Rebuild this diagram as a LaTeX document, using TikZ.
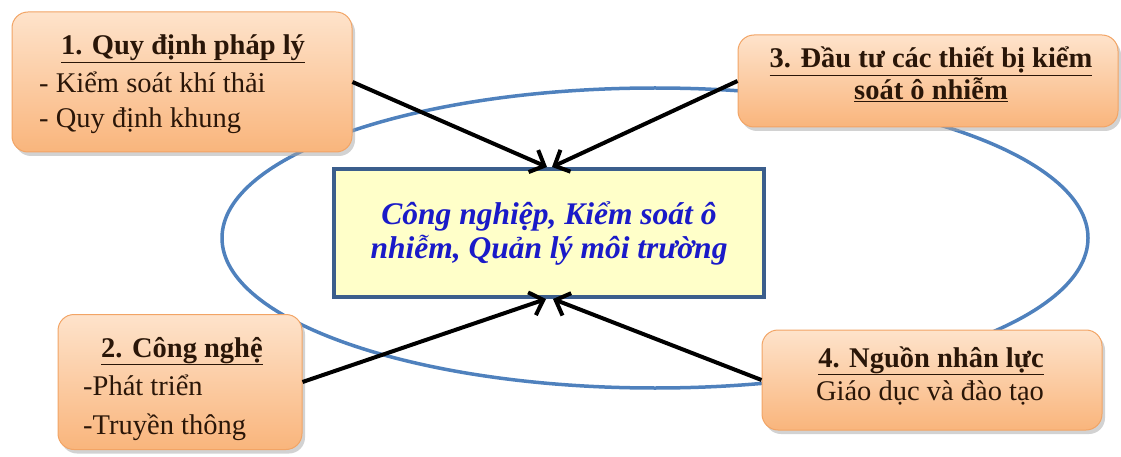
\documentclass[tikz,border=0pt]{standalone}
\usepackage{fontspec}
\setmainfont{Liberation Serif}
\usetikzlibrary{shadows,arrows.meta,calc}
\definecolor{ellblue}{HTML}{4F81BD}
\definecolor{boxedge}{HTML}{F2A465}
\definecolor{boxtop}{HTML}{FEE3CB}
\definecolor{boxbot}{HTML}{F9B57C}
\definecolor{cfill}{HTML}{FFFFC9}
\definecolor{cedge}{HTML}{3B5E8C}
\definecolor{ctext}{HTML}{1A1AC8}
\definecolor{btext}{HTML}{2A1608}
\tikzset{
  obox/.style={draw=boxedge, line width=1pt, rounded corners=16pt,
    top color=boxtop, bottom color=boxbot,
    drop shadow={shadow xshift=3pt, shadow yshift=-4pt, fill=black!35, opacity=0.5},
    inner sep=0pt},
  ttl/.style={font=\fontsize{28.5}{34}\selectfont\bfseries, text=btext, inner sep=0pt, anchor=base},
  itm/.style={font=\fontsize{28.5}{34}\selectfont, text=btext, inner sep=0pt, anchor=base west},
  arr/.style={line width=4pt, -{Straight Barb[length=12pt,width=24pt]}, black}
}
\begin{document}
\begin{tikzpicture}[x=1pt,y=-1pt]
\useasboundingbox (0,0) rectangle (1121,457);
% ellipse
\draw[ellblue, line width=3.5pt] (655,238) ellipse [x radius=433, y radius=150];
% center box
\node[draw=cedge, line width=4pt, fill=cfill, minimum width=430pt, minimum height=128pt, inner sep=0pt,
  align=center, text=ctext, font=\fontsize{31.5}{34}\selectfont\bfseries\itshape]
  (c) at (549,233) {Công nghiệp, Kiểm soát ô\\nhiễm, Quản lý môi trường};
% box 1
\node[obox, minimum width=340pt, minimum height=140pt] (b1) at (182,82) {};
\node[ttl] (t1) at (183,55) {\underline{1. Quy định pháp lý}};
\node[itm] (t1a) at (39,93) {- Kiểm soát khí thải};
\node[itm] (t1b) at (39,128) {- Quy định khung};
% box 3
\node[obox, minimum width=380pt, minimum height=92pt] (b3) at (928,81) {};
\node[ttl] (t3a) at (931,68) {\underline{3. Đầu tư các thiết bị kiểm}};
\node[ttl] (t3b) at (931,100) {\underline{soát ô nhiễm}};
% box 2
\node[obox, minimum width=244pt, minimum height=135pt] (b2) at (180,382) {};
\node[ttl] (t2) at (182,357) {\underline{2. Công nghệ}};
\node[itm] (t2a) at (83,395) {-Phát triển};
\node[itm] (t2b) at (83,434) {-Truyền thông};
% box 4
\node[obox, minimum width=340pt, minimum height=100pt] (b4) at (932,380) {};
\node[ttl] (t4a) at (931,367) {\underline{4. Nguồn nhân lực}};
\node[itm, anchor=base] (t4b) at (930,400) {Giáo dục và đào tạo};
% arrows
\draw[arr] (b1.east) -- ($(c.north)+(-2,0)$);
\draw[arr] (b3.west) -- ($(c.north)+(3,0)$);
\draw[arr] (b2.east) -- ($(c.south)+(-3,0)$);
\draw[arr] (b4.west) -- ($(c.south)+(4,0)$);
\end{tikzpicture}
\end{document}
